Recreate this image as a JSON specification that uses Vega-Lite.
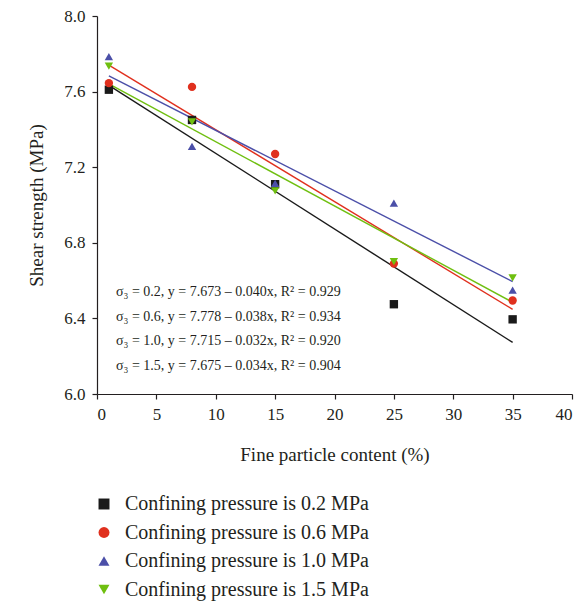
{
  "$schema": "https://vega.github.io/schema/vega-lite/v6.json",
  "width": 475,
  "height": 378,
  "autosize": {"type": "none"},
  "padding": {"left": 97, "top": 16, "right": 9, "bottom": 207},
  "background": "white",
  "config": {
    "view": {"stroke": null},
    "font": "Liberation Serif",
    "axis": {
      "domainColor": "#231f20",
      "tickColor": "#231f20",
      "labelColor": "#231f20",
      "titleColor": "#231f20",
      "labelFont": "Liberation Serif",
      "titleFont": "Liberation Serif",
      "labelFontSize": 17,
      "titleFontSize": 19,
      "titleFontWeight": "normal",
      "grid": false,
      "tickSize": 5,
      "domainWidth": 1.2,
      "tickWidth": 1.2
    },
    "legend": {
      "labelFont": "Liberation Serif",
      "labelFontSize": 20,
      "labelColor": "#231f20",
      "labelLimit": 400
    }
  },
  "datasets": {
    "pts": [
      {"series": "Confining pressure is 0.2 MPa", "x": 1, "y": 7.61},
      {"series": "Confining pressure is 0.2 MPa", "x": 8, "y": 7.45},
      {"series": "Confining pressure is 0.2 MPa", "x": 15, "y": 7.11},
      {"series": "Confining pressure is 0.2 MPa", "x": 25, "y": 6.475},
      {"series": "Confining pressure is 0.2 MPa", "x": 35, "y": 6.395},
      {"series": "Confining pressure is 0.6 MPa", "x": 1, "y": 7.645},
      {"series": "Confining pressure is 0.6 MPa", "x": 8, "y": 7.625},
      {"series": "Confining pressure is 0.6 MPa", "x": 15, "y": 7.27},
      {"series": "Confining pressure is 0.6 MPa", "x": 25, "y": 6.69},
      {"series": "Confining pressure is 0.6 MPa", "x": 35, "y": 6.495},
      {"series": "Confining pressure is 1.0 MPa", "x": 1, "y": 7.785},
      {"series": "Confining pressure is 1.0 MPa", "x": 8, "y": 7.31},
      {"series": "Confining pressure is 1.0 MPa", "x": 15, "y": 7.115},
      {"series": "Confining pressure is 1.0 MPa", "x": 25, "y": 7.01},
      {"series": "Confining pressure is 1.0 MPa", "x": 35, "y": 6.55},
      {"series": "Confining pressure is 1.5 MPa", "x": 1, "y": 7.735},
      {"series": "Confining pressure is 1.5 MPa", "x": 8, "y": 7.44},
      {"series": "Confining pressure is 1.5 MPa", "x": 15, "y": 7.075},
      {"series": "Confining pressure is 1.5 MPa", "x": 25, "y": 6.70},
      {"series": "Confining pressure is 1.5 MPa", "x": 35, "y": 6.615}
    ],
    "fits": [
      {"series": "s02", "x": 1, "y": 7.633},
      {"series": "s02", "x": 35, "y": 6.273},
      {"series": "s06", "x": 1, "y": 7.740},
      {"series": "s06", "x": 35, "y": 6.448},
      {"series": "s10", "x": 1, "y": 7.683},
      {"series": "s10", "x": 35, "y": 6.595},
      {"series": "s15", "x": 1, "y": 7.641},
      {"series": "s15", "x": 35, "y": 6.485}
    ],
    "notes": [
      {"x": 1.6, "y": 6.541, "label": "σ₃ = 0.2, y = 7.673 – 0.040x, R² = 0.929"},
      {"x": 1.6, "y": 6.409, "label": "σ₃ = 0.6, y = 7.778 – 0.038x, R² = 0.934"},
      {"x": 1.6, "y": 6.282, "label": "σ₃ = 1.0, y = 7.715 – 0.032x, R² = 0.920"},
      {"x": 1.6, "y": 6.149, "label": "σ₃ = 1.5, y = 7.675 – 0.034x, R² = 0.904"}
    ]
  },
  "layer": [
    {
      "data": {"name": "fits"},
      "mark": {"type": "line", "strokeWidth": 1.4},
      "encoding": {
        "x": {"field": "x", "type": "quantitative", "scale": {"domain": [0, 40], "nice": false}, "axis": {"values": [0, 5, 10, 15, 20, 25, 30, 35, 40], "title": "Fine particle content (%)", "labelPadding": 7, "titlePadding": 23}},
        "y": {"field": "y", "type": "quantitative", "scale": {"domain": [6, 8], "nice": false, "zero": false}, "axis": {"values": [6.0, 6.4, 6.8, 7.2, 7.6, 8.0], "format": ".1f", "title": "Shear strength (MPa)", "labelPadding": 7, "titlePadding": 17}},
        "stroke": {"field": "series", "type": "nominal", "scale": {"domain": ["s02", "s06", "s10", "s15"], "range": ["#1a1a1a", "#e0301e", "#4b4fa8", "#6fbf10"]}, "legend": null}
      }
    },
    {
      "data": {"name": "pts"},
      "mark": {"type": "point", "filled": true, "opacity": 1, "size": 70},
      "encoding": {
        "x": {"field": "x", "type": "quantitative"},
        "y": {"field": "y", "type": "quantitative"},
        "color": {"field": "series", "type": "nominal", "scale": {"range": ["#1a1a1a", "#e0301e", "#4b4fa8", "#6fbf10"]},
          "legend": {"title": null, "orient": "none", "legendX": -3, "legendY": 478, "direction": "vertical", "symbolSize": 120, "symbolStrokeWidth": 0, "labelOffset": 11, "rowPadding": 8.5, "symbolOpacity": 1}},
        "shape": {"field": "series", "type": "nominal", "scale": {"range": ["square", "circle", "triangle-up", "triangle-down"]}}
      }
    },
    {
      "data": {"name": "notes"},
      "mark": {"type": "text", "align": "left", "baseline": "middle", "fontSize": 14, "font": "Liberation Serif", "color": "#231f20"},
      "encoding": {
        "x": {"field": "x", "type": "quantitative"},
        "y": {"field": "y", "type": "quantitative"},
        "text": {"field": "label"}
      }
    }
  ],
  "encoding": {}
}
